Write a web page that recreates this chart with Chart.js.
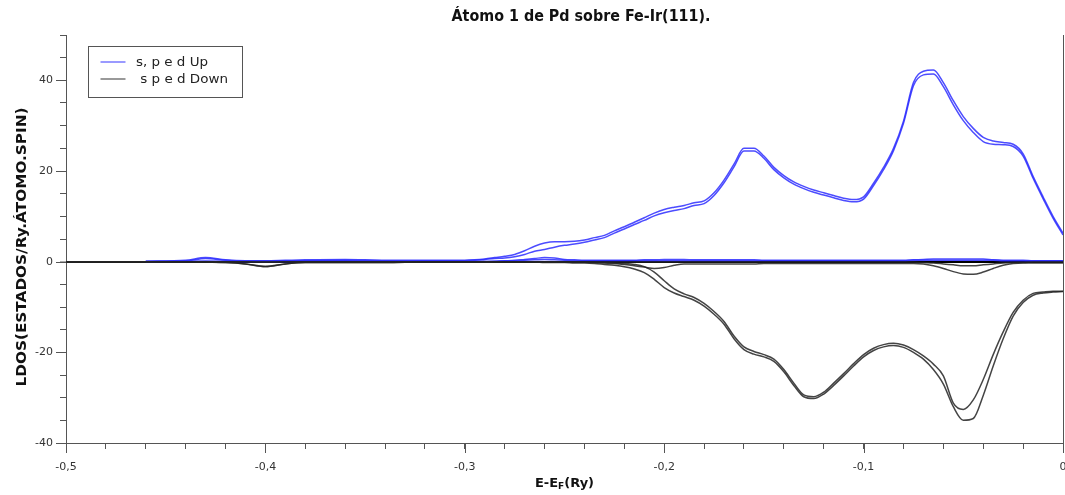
<!DOCTYPE html>
<html lang="pt">
<head>
<meta charset="utf-8">
<title>LDOS - Pd sobre Fe-Ir(111)</title>
<script src="https://cdn.jsdelivr.net/npm/chart.js@4.4.1/dist/chart.umd.min.js"></script>
<style>
    html, body { margin: 0; padding: 0; background: #fff; }
    #grafico-box { width: 1065px; height: 495px; position: relative; }
</style>
</head>
<body>
<div id="grafico-box"><canvas id="ldos-chart"></canvas></div>
<script>
const tituloGrafico = 'Átomo 1 de Pd sobre Fe-Ir(111).';
const tituloY = 'LDOS(ESTADOS/Ry.ÁTOMO.SPIN)';

// Energias E-EF (Ry)
const energia = [
    -0.5, -0.48, -0.46, -0.44, -0.43, -0.42, -0.41, -0.40, -0.39, -0.38, -0.36, -0.34, -0.32, -0.30,
    -0.295, -0.29, -0.285, -0.28, -0.275, -0.27, -0.265, -0.26, -0.255, -0.25,
    -0.245, -0.24, -0.235, -0.23, -0.225, -0.22, -0.215, -0.21, -0.205, -0.2,
    -0.195, -0.19, -0.185, -0.18, -0.175, -0.17, -0.165, -0.16, -0.155, -0.15,
    -0.145, -0.14, -0.135, -0.13, -0.125, -0.12, -0.115, -0.11, -0.105, -0.1,
    -0.095, -0.09, -0.085, -0.08, -0.075, -0.07, -0.065, -0.06, -0.055, -0.05,
    -0.045, -0.04, -0.035, -0.03, -0.025, -0.02, -0.015, -0.01, -0.005, 0
];

// spin up
const upTotal = [
    null, null, 0.1, 0.3, 0.9, 0.4, 0.2, 0.2, 0.3, 0.4, 0.5, 0.3, 0.3, 0.3,
    0.4, 0.6, 0.9, 1.2, 1.6, 2.4, 3.4, 4.1, 4.4, 4.4,
    4.5, 4.8, 5.3, 5.8, 6.8, 7.7, 8.7, 9.7, 10.7, 11.5,
    12.0, 12.4, 13.0, 13.4, 15.2, 18.0, 21.5, 25.0, 25.0, 23.3,
    20.8, 19.0, 17.6, 16.6, 15.8, 15.2, 14.6, 14.0, 13.7, 14.3,
    17.3, 20.8, 25.0, 31.0, 39.5, 42.0, 42.3, 39.5, 35.5, 32.0,
    29.4, 27.4, 26.6, 26.3, 25.9, 23.8, 18.8, 14.3, 10.0, 6.3
];
const upD = [
    null, null, 0.0, 0.1, 0.1, 0.0, 0.1, 0.1, 0.2, 0.2, 0.2, 0.1, 0.2, 0.2,
    0.3, 0.5, 0.7, 0.8, 1.1, 1.6, 2.3, 2.7, 3.2, 3.6,
    3.9, 4.3, 4.8, 5.3, 6.3, 7.2, 8.2, 9.1, 10.1, 10.8,
    11.3, 11.7, 12.4, 12.8, 14.6, 17.4, 20.9, 24.4, 24.4, 22.8,
    20.3, 18.5, 17.1, 16.1, 15.3, 14.7, 14.1, 13.5, 13.2, 13.8,
    16.8, 20.3, 24.5, 30.5, 38.8, 41.2, 41.4, 38.6, 34.6, 31.1,
    28.5, 26.5, 25.9, 25.8, 25.4, 23.3, 18.4, 13.9, 9.6, 5.9
];
const upS = [
    null, null, 0.1, 0.2, 0.7, 0.3, 0.1, 0.1, 0.1, 0.2, 0.3, 0.2, 0.1, 0.1,
    0.1, 0.1, 0.1, 0.2, 0.2, 0.3, 0.4, 0.5, 0.4, 0.3,
    0.2, 0.2, 0.2, 0.2, 0.2, 0.2, 0.2, 0.2, 0.2, 0.2,
    0.2, 0.2, 0.2, 0.2, 0.2, 0.2, 0.2, 0.2, 0.2, 0.2,
    0.2, 0.2, 0.2, 0.2, 0.2, 0.2, 0.2, 0.2, 0.2, 0.2,
    0.2, 0.2, 0.2, 0.2, 0.3, 0.3, 0.3, 0.3, 0.3, 0.3,
    0.3, 0.3, 0.3, 0.2, 0.2, 0.2, 0.2, 0.2, 0.2, 0.2
];
const upP = [
    null, null, 0.0, 0.0, 0.1, 0.1, 0.0, 0.0, 0.0, 0.0, 0.0, 0.0, 0.0, 0.0,
    0.0, 0.0, 0.1, 0.2, 0.3, 0.5, 0.7, 0.9, 0.8, 0.5,
    0.4, 0.3, 0.3, 0.3, 0.3, 0.3, 0.3, 0.4, 0.4, 0.5,
    0.5, 0.5, 0.4, 0.4, 0.4, 0.4, 0.4, 0.4, 0.4, 0.3,
    0.3, 0.3, 0.3, 0.3, 0.3, 0.3, 0.3, 0.3, 0.3, 0.3,
    0.3, 0.3, 0.3, 0.3, 0.4, 0.5, 0.6, 0.6, 0.6, 0.6,
    0.6, 0.6, 0.4, 0.3, 0.3, 0.3, 0.2, 0.2, 0.2, 0.2
];

// spin down
const downTotal = [
    0, 0, 0, 0, -0.1, -0.2, -0.5, -1.1, -0.5, -0.2, -0.2, -0.2, -0.1, -0.1,
    -0.1, -0.1, -0.1, -0.1, -0.1, -0.1, -0.1, -0.2, -0.2, -0.2,
    -0.3, -0.3, -0.4, -0.6, -0.8, -1.1, -1.6, -2.4, -3.9, -5.7,
    -6.9, -7.7, -8.5, -9.8, -11.6, -13.8, -17.0, -19.4, -20.4, -21.0,
    -22.0, -24.3, -27.3, -29.8, -30.2, -29.2, -27.3, -25.2, -23.0, -21.0,
    -19.6, -18.8, -18.5, -18.9, -20.0, -21.5, -23.8, -27.0, -32.0, -35.0,
    -34.6, -29.5, -23.0, -17.0, -12.0, -9.0, -7.4, -6.9, -6.7, -6.6
];
const downD = [
    0, 0, 0, 0, 0, 0, 0, -0.1, 0, 0, 0, 0, 0, 0,
    0, 0, 0, 0, 0, 0, 0, -0.1, 0, 0,
    -0.1, -0.1, -0.1, -0.2, -0.3, -0.4, -0.6, -1.1, -2.3, -4.2,
    -6.0, -7.1, -7.9, -9.2, -11.0, -13.2, -16.4, -18.8, -19.8, -20.5,
    -21.5, -23.8, -26.8, -29.4, -29.8, -28.8, -26.8, -24.7, -22.5, -20.5,
    -19.1, -18.3, -18.0, -18.4, -19.4, -20.8, -22.6, -25.2, -31.2, -32.6,
    -30.5, -26.0, -20.5, -15.5, -11.2, -8.5, -7.0, -6.7, -6.5, -6.5
];
const downS = [
    0, 0, 0, -0.1, -0.1, -0.2, -0.5, -1.0, -0.5, -0.2, -0.2, -0.2, -0.1, -0.1,
    -0.1, -0.1, -0.1, -0.1, -0.1, -0.1, -0.1, -0.1, -0.1, -0.1,
    -0.1, -0.1, -0.1, -0.1, -0.1, -0.1, -0.1, -0.1, -0.1, -0.1,
    -0.1, -0.1, -0.1, -0.1, -0.1, -0.1, -0.1, -0.1, -0.1, -0.1,
    -0.1, -0.1, -0.1, -0.1, -0.1, -0.1, -0.1, -0.1, -0.1, -0.1,
    -0.1, -0.1, -0.1, -0.1, -0.1, -0.2, -0.3, -0.5, -0.7, -0.9,
    -0.9, -0.7, -0.5, -0.3, -0.2, -0.2, -0.1, -0.1, -0.1, -0.1
];
const downP = [
    0, 0, 0, 0, 0, 0, 0, -0.1, 0, 0, 0, 0, 0, 0,
    0, 0, 0, 0, 0, 0, 0, 0, -0.1, -0.1,
    -0.1, -0.1, -0.2, -0.3, -0.4, -0.6, -0.9, -1.2, -1.5, -1.3,
    -0.8, -0.5, -0.5, -0.5, -0.5, -0.5, -0.5, -0.5, -0.5, -0.4,
    -0.4, -0.4, -0.4, -0.4, -0.4, -0.4, -0.4, -0.4, -0.4, -0.4,
    -0.4, -0.4, -0.4, -0.4, -0.4, -0.5, -0.9, -1.5, -2.2, -2.7,
    -2.8, -2.3, -1.5, -0.8, -0.4, -0.3, -0.3, -0.3, -0.3, -0.3
];

const corUp = 'rgba(45, 45, 255, 0.85)';
const corDown = 'rgba(35, 35, 35, 0.85)';
const fonte = "'DejaVu Sans', Verdana, sans-serif";

function pontos(valores) {
    return energia.map((e, i) => ({ x: e, y: valores[i] }));
}

function serie(label, valores, cor, ordemLegenda, corLegenda) {
    return {
        label: label,
        data: pontos(valores),
        borderColor: cor,
        backgroundColor: cor,
        borderWidth: 1.5,
        pointRadius: 0,
        fill: false,
        cubicInterpolationMode: 'monotone',
        spanGaps: false,
        ordemLegenda: ordemLegenda,
        corLegenda: corLegenda
    };
}

// draws text squeezed/stretched to a given width (the original uses Tahoma)
function textoNaLargura(ctx, texto, x, y, largura, alinhamento) {
    const w = ctx.measureText(texto).width;
    ctx.save();
    ctx.translate(x, y);
    ctx.scale(largura / w, 1);
    ctx.textAlign = alinhamento;
    ctx.fillText(texto, 0, 0);
    ctx.restore();
}

// legend box drawn inside the plot, like the original
const caixaLegenda = {
    id: 'caixaLegenda',
    afterDraw(chart) {
        const { ctx, chartArea } = chart;
        const itens = chart.data.datasets
            .filter(ds => ds.ordemLegenda)
            .sort((a, b) => a.ordemLegenda - b.ordemLegenda);
        const larguras = [72, 92];
        const x0 = chartArea.left + 22.5;
        const y0 = chartArea.top + 11.5;
        ctx.save();
        ctx.fillStyle = '#fff';
        ctx.strokeStyle = '#555';
        ctx.lineWidth = 1;
        ctx.fillRect(x0, y0, 154, 51);
        ctx.strokeRect(x0, y0, 154, 51);
        ctx.font = '12px ' + fonte;
        ctx.textBaseline = 'middle';
        itens.forEach((ds, i) => {
            const y = y0 + 15.5 + i * 17;
            ctx.strokeStyle = ds.corLegenda;
            ctx.lineWidth = 1.5;
            ctx.beginPath();
            ctx.moveTo(x0 + 12, y);
            ctx.lineTo(x0 + 37, y);
            ctx.stroke();
            ctx.fillStyle = '#222';
            textoNaLargura(ctx, ds.label, x0 + 47.5, y + 0.5, larguras[i], 'left');
        });
        ctx.restore();
    }
};

// title, y title, right border, longer major ticks and x title with subscript F
const molduraEixos = {
    id: 'molduraEixos',
    afterDraw(chart) {
        const { ctx, chartArea, scales } = chart;
        ctx.save();
        ctx.strokeStyle = '#555';
        ctx.lineWidth = 1;
        ctx.beginPath();
        ctx.moveTo(chartArea.right + 0.5, chartArea.top);
        ctx.lineTo(chartArea.right + 0.5, chartArea.bottom);
        ctx.stroke();

        ctx.beginPath();
        scales.x.ticks.forEach(t => {
            if (Math.abs(Math.round(t.value * 100)) % 10 !== 0) return;
            const px = Math.round(scales.x.getPixelForValue(t.value)) + 0.5;
            ctx.moveTo(px, chartArea.bottom);
            ctx.lineTo(px, chartArea.bottom + 10);
        });
        scales.y.ticks.forEach(t => {
            if (t.value % 20 !== 0) return;
            const py = Math.round(scales.y.getPixelForValue(t.value)) + 0.5;
            ctx.moveTo(chartArea.left - 10, py);
            ctx.lineTo(chartArea.left, py);
        });
        ctx.stroke();

        ctx.fillStyle = '#111';
        ctx.textBaseline = 'middle';

        // title
        ctx.font = 'bold 15px ' + fonte;
        textoNaLargura(ctx, tituloGrafico, 581, 17, 259, 'center');

        // y title
        ctx.save();
        ctx.translate(22, 247);
        ctx.rotate(-Math.PI / 2);
        ctx.font = 'bold 14px ' + fonte;
        textoNaLargura(ctx, tituloY, 0, 0, 279, 'center');
        ctx.restore();

        // E-EF(Ry)
        const partes = [
            { txt: 'E-E', size: 13, dy: 0 },
            { txt: 'F', size: 9, dy: 3 },
            { txt: '(Ry)', size: 13, dy: 0 }
        ];
        let largura = 0;
        partes.forEach(p => {
            ctx.font = 'bold ' + p.size + 'px ' + fonte;
            p.w = ctx.measureText(p.txt).width;
            largura += p.w;
        });
        let x = (chartArea.left + chartArea.right) / 2 - largura / 2;
        const yBase = chartArea.bottom + 41;
        ctx.textAlign = 'left';
        partes.forEach(p => {
            ctx.font = 'bold ' + p.size + 'px ' + fonte;
            ctx.fillText(p.txt, x, yBase + p.dy);
            x += p.w;
        });
        ctx.restore();
    }
};

const ctx = document.getElementById('ldos-chart');

new Chart(ctx, {
    type: 'line',
    data: {
        datasets: [
            serie(' s p e d Down', downTotal, corDown, 2, '#777'),
            serie('d Down', downD, corDown, 0),
            serie('s Down', downS, corDown, 0),
            serie('p Down', downP, corDown, 0),
            serie('s, p e d Up', upTotal, corUp, 1, '#7878ff'),
            serie('d Up', upD, corUp, 0),
            serie('s Up', upS, corUp, 0),
            serie('p Up', upP, corUp, 0)
        ]
    },
    options: {
        responsive: true,
        maintainAspectRatio: false,
        animation: false,
        layout: {
            padding: { left: 0, right: 2, top: 35, bottom: 0 }
        },
        plugins: {
            legend: { display: false },
            tooltip: { enabled: false },
            title: { display: false }
        },
        scales: {
            x: {
                type: 'linear',
                min: -0.5,
                max: 0,
                afterFit: function (scale) {
                    scale.height = 52;
                    scale.paddingLeft = 0;
                    scale.paddingRight = 0;
                },
                border: { display: true, color: '#555', width: 1 },
                grid: {
                    drawOnChartArea: false,
                    drawTicks: true,
                    tickLength: 6,
                    tickColor: '#555',
                    tickWidth: 1
                },
                ticks: {
                    stepSize: 0.02,
                    autoSkip: false,
                    maxRotation: 0,
                    padding: 12,
                    color: '#333',
                    font: { family: fonte, size: 11 },
                    callback: function (value) {
                        if (Math.abs(Math.round(value * 100)) % 10 !== 0) return '';
                        const v = Math.round(value * 10) / 10;
                        return (v === 0 ? '0' : v.toFixed(1).replace('.', ','));
                    }
                }
            },
            y: {
                min: -40,
                max: 50,
                afterFit: function (scale) {
                    scale.width = 66;
                    scale.paddingTop = 0;
                    scale.paddingBottom = 0;
                },
                border: { display: true, color: '#555', width: 1 },
                grid: {
                    drawOnChartArea: true,
                    drawTicks: true,
                    tickLength: 6,
                    tickColor: '#555',
                    tickWidth: 1,
                    color: function (c) {
                        return c.tick && c.tick.value === 0 ? '#000' : 'rgba(0,0,0,0)';
                    },
                    lineWidth: function (c) {
                        return c.tick && c.tick.value === 0 ? 2 : 1;
                    }
                },
                ticks: {
                    stepSize: 5,
                    autoSkip: false,
                    padding: 7,
                    color: '#333',
                    font: { family: fonte, size: 11 },
                    callback: function (value) {
                        return value % 20 === 0 ? String(value) : '';
                    }
                }
            }
        }
    },
    plugins: [caixaLegenda, molduraEixos]
});
</script>
</body>
</html>
